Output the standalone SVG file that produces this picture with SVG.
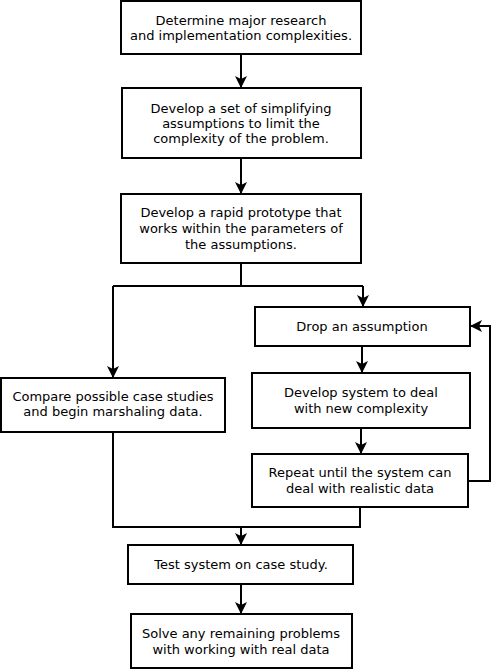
<svg xmlns="http://www.w3.org/2000/svg" width="492" height="671" viewBox="0 0 492 671">
<style>
.box{fill:#fff;stroke:#000;stroke-width:2}
.t{font-family:"DejaVu Sans",sans-serif;font-size:13px;fill:#000;text-anchor:middle}
.c{fill:none;stroke:#000;stroke-width:2}
</style>
<defs>
<marker id="a" markerWidth="12" markerHeight="12" viewBox="0 0 12 12" refX="11" refY="6" orient="auto" markerUnits="userSpaceOnUse">
<path d="M0,0 L12,6 L0,12 L3,6 Z" fill="#000"/>
</marker>
</defs>
<rect width="492" height="671" fill="#fff"/>
<g id="connectors">
<path class="c" d="M241,54 V87" marker-end="url(#a)"/>
<path class="c" d="M241,158 V193" marker-end="url(#a)"/>
<path class="c" d="M241,263 V286 M113,286 H363"/>
<path class="c" d="M363,286 V306" marker-end="url(#a)"/>
<path class="c" d="M113,286 V377" marker-end="url(#a)"/>
<path class="c" d="M362,346 V372" marker-end="url(#a)"/>
<path class="c" d="M361,428 V453" marker-end="url(#a)"/>
<path class="c" d="M468,481 H490 V326 H471" marker-end="url(#a)"/>
<path class="c" d="M113,432 V527 H360 V507"/>
<path class="c" d="M241,527 V544" marker-end="url(#a)"/>
<path class="c" d="M241,584 V613" marker-end="url(#a)"/>
</g>
<g id="n1"><rect class="box" x="121" y="1" width="240" height="53"/>
<text class="t" x="241" y="25">Determine major research</text>
<text class="t" x="241" y="40">and implementation complexities.</text></g>
<g id="n2"><rect class="box" x="122" y="88" width="239" height="70"/>
<text class="t" x="241" y="113">Develop a set of simplifying</text>
<text class="t" x="241" y="128">assumptions to limit the</text>
<text class="t" x="241" y="143">complexity of the problem.</text></g>
<g id="n3"><rect class="box" x="121" y="194" width="240" height="69"/>
<text class="t" x="241" y="217">Develop a rapid prototype that</text>
<text class="t" x="241" y="233">works within the parameters of</text>
<text class="t" x="241" y="249">the assumptions.</text></g>
<g id="n4"><rect class="box" x="255" y="307" width="215" height="39"/>
<text class="t" x="362" y="331">Drop an assumption</text></g>
<g id="n5"><rect class="box" x="1" y="378" width="224" height="54"/>
<text class="t" x="113" y="401">Compare possible case studies</text>
<text class="t" x="113" y="416">and begin marshaling data.</text></g>
<g id="n6"><rect class="box" x="252" y="373" width="218" height="55"/>
<text class="t" x="361" y="397">Develop system to deal</text>
<text class="t" x="361" y="413">with new complexity</text></g>
<g id="n7"><rect class="box" x="252" y="454" width="216" height="53"/>
<text class="t" x="360" y="477">Repeat until the system can</text>
<text class="t" x="360" y="493">deal with realistic data</text></g>
<g id="n8"><rect class="box" x="128" y="545" width="225" height="39"/>
<text class="t" x="241" y="569">Test system on case study.</text></g>
<g id="n9"><rect class="box" x="131" y="614" width="221" height="54"/>
<text class="t" x="241" y="638">Solve any remaining problems</text>
<text class="t" x="241" y="654">with working with real data</text></g>
</svg>
